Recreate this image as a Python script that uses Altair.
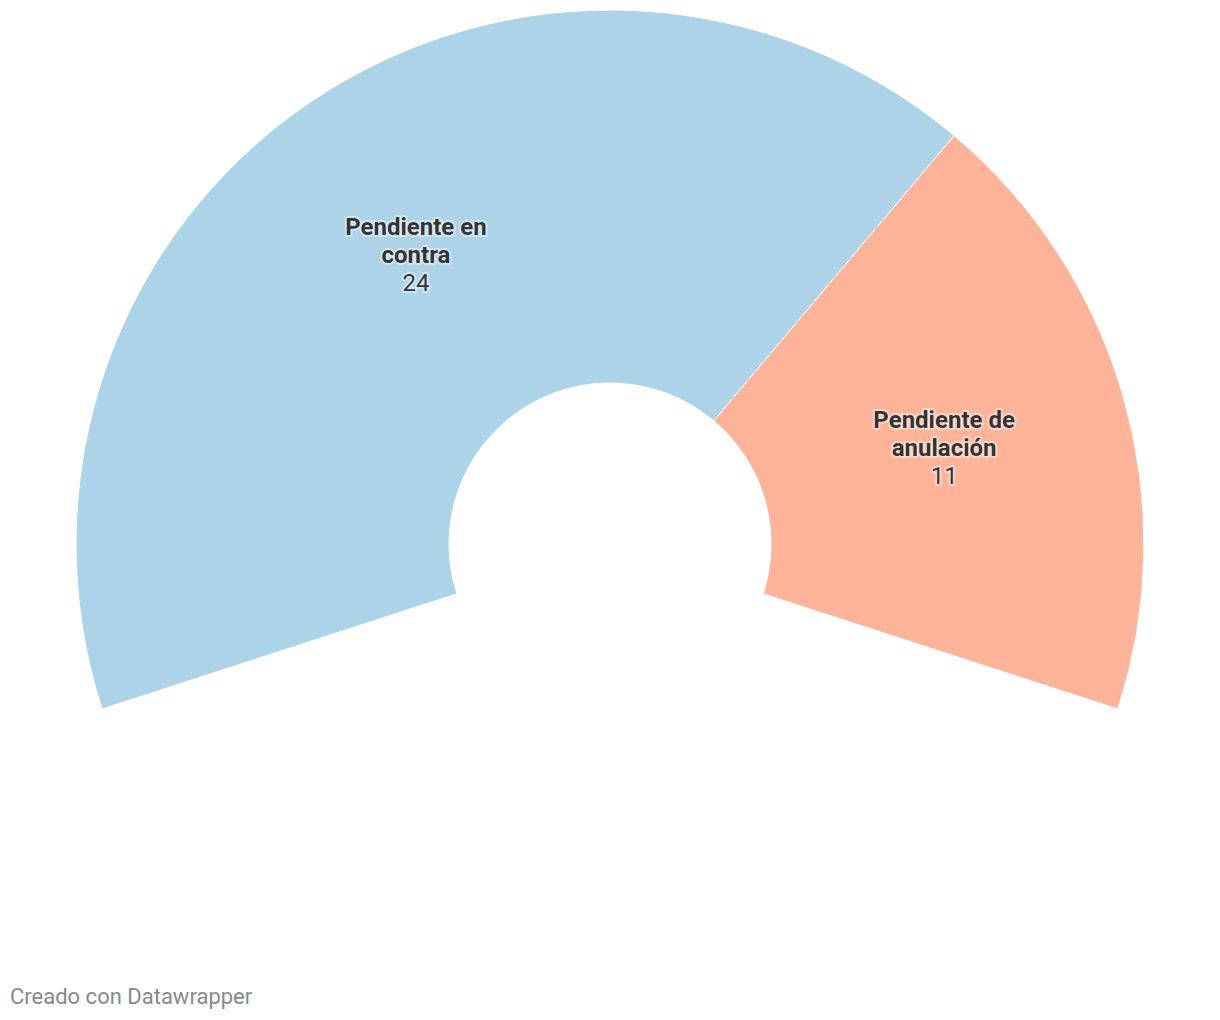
import math
import altair as alt
import pandas as pd

categories = ["Pendiente en contra", "Pendiente de anulación"]
values = [24, 11]
label_text = ["Pendiente en\ncontra", "Pendiente de\nanulación"]
colors = ["#add3e8", "#ffb499"]
footer = "Creado con Datawrapper"

df = pd.DataFrame({"cat": categories, "value": values, "label": label_text,
                   "order": list(range(len(categories)))})

theta_scale = alt.Scale(range=[-0.6 * math.pi, 0.6 * math.pi])
theta = alt.Theta("value:Q", stack=True, scale=theta_scale)
cx, cy = 610, 544
FS = 24

base = alt.Chart(df)

arcs = base.mark_arc(outerRadius=534, innerRadius=161, stroke="white", strokeWidth=1).encode(
    theta=theta,
    order=alt.Order("order:Q"),
    color=alt.Color("cat:N", scale=alt.Scale(domain=categories, range=colors), legend=None),
    x=alt.value(cx), y=alt.value(cy),
)


def txt(field, bold, dy, halo):
    kw = dict(radius=347.5, font="Roboto", fontSize=FS, lineBreak="\n", lineHeight=28,
              baseline="middle", align="center", dy=dy)
    if bold:
        kw["fontWeight"] = "bold"
    if halo:
        kw.update(stroke="white", strokeWidth=4, strokeOpacity=0.45, strokeJoin="round",
                  color="white")
    else:
        kw["color"] = "#333333"
    return base.mark_text(**kw).encode(
        theta=theta, order=alt.Order("order:Q"), text=field,
        x=alt.value(cx), y=alt.value(cy),
    )


layers = [arcs,
          txt("label:N", True, -28, True), txt("label:N", True, -28, False),
          txt("value:Q", False, 28, True), txt("value:Q", False, 28, False)]

foot = alt.Chart(pd.DataFrame({"t": [footer]})).mark_text(
    font="Roboto", fontSize=22, color="#888888", align="left", baseline="middle"
).encode(text="t:N", x=alt.value(10), y=alt.value(997))
layers.append(foot)

chart = alt.layer(*layers).properties(
    width=1220, height=1020, padding=0, autosize=alt.AutoSizeParams(type="none")
).configure(background="white").configure_view(stroke=None)

chart.save("out.html", embed_options={"renderer": "svg", "actions": False})
